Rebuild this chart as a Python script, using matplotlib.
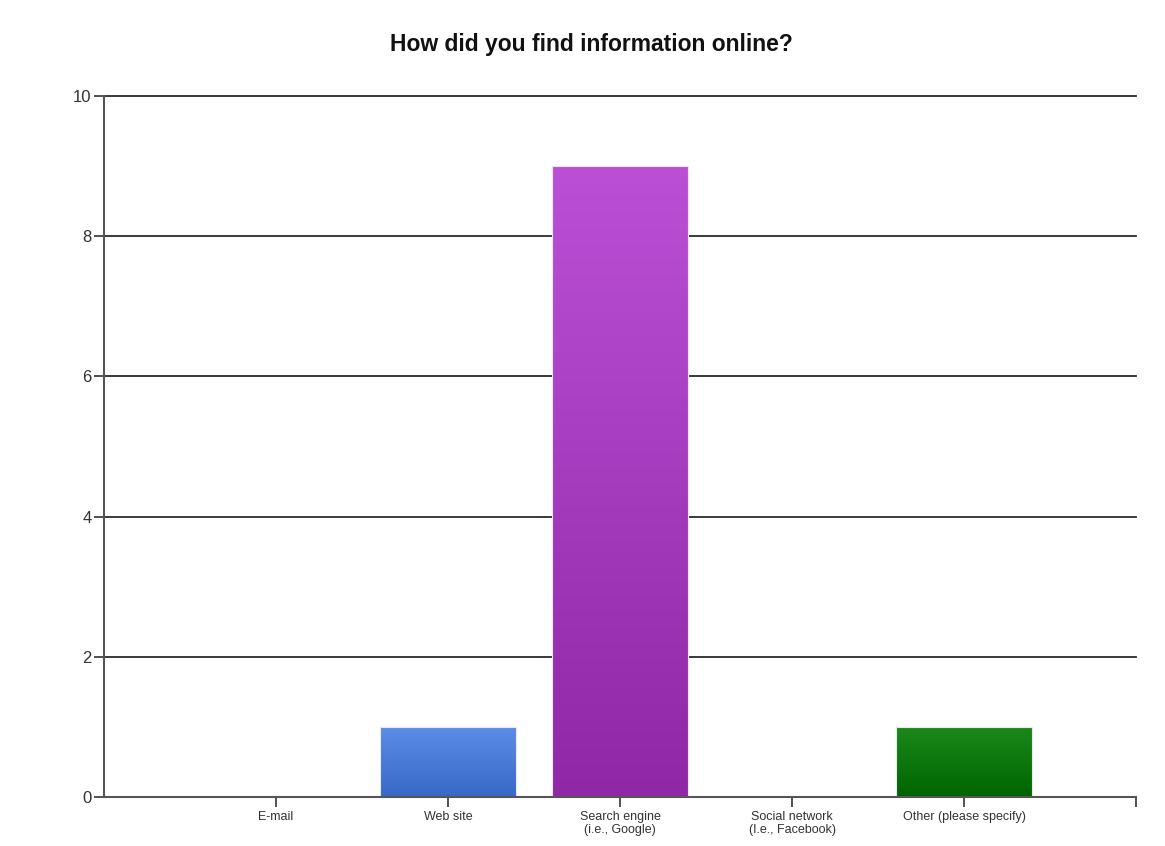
import matplotlib
matplotlib.use("Agg")
import matplotlib.pyplot as plt
import numpy as np
from matplotlib.colors import LinearSegmentedColormap

categories = ["E-mail", "Web site", "Search engine\n(i.e., Google)",
              "Social network\n(I.e., Facebook)", "Other (please specify)"]
counts = [0, 1, 9, 0, 1]
# top / bottom colour of each bar's gradient
top_colors = ["#5b8ee8", "#5b8ee8", "#bb50d6", "#bb50d6", "#1a8a1a"]
bottom_colors = ["#3868c6", "#3868c6", "#8f27a6", "#8f27a6", "#006400"]

plt.rcParams['font.family'] = ['Liberation Sans', 'DejaVu Sans']

fig = plt.figure(figsize=(11.65, 8.46), dpi=100)
ax = fig.add_axes([0.0893, 0.0579, 0.8858, 0.8286])

x = np.arange(1, len(categories) + 1)
width = 0.79
bars = ax.bar(x, counts, width=width, color="none", edgecolor="none", zorder=3)

# fill each bar with a vertical gradient clipped to the bar rectangle
grad = np.linspace(0, 1, 256).reshape(-1, 1)
for b, top, bot, v in zip(bars, top_colors, bottom_colors, counts):
    if v == 0:
        continue
    cmap = LinearSegmentedColormap.from_list("g", [bot, top])
    x0 = b.get_x()
    im = ax.imshow(grad, cmap=cmap, aspect="auto", origin="lower",
                   extent=[x0, x0 + width, 0, v], zorder=3, interpolation="bilinear")
    im.set_clip_path(b)
    ax.add_patch(plt.Rectangle((x0, 0), width, v, fill=False,
                               edgecolor="#ece6f0", lw=0.8, zorder=4))

ax.set_xlim(0, 6)
ax.set_ylim(0, 10)
ax.set_yticks([0, 2, 4, 6, 8, 10])
ax.set_xticks(list(x) + [6])
ax.set_xticklabels(categories + [""], fontsize=9, color="#333333", linespacing=1.15)
ax.tick_params(axis="y", labelsize=12, colors="#333333", length=7, width=1.2, pad=2)
ax.tick_params(axis="x", length=7, width=1.2, colors="#333333", pad=3)
for lab in ax.get_xticklabels():
    lab.set_color("#333333")

ax.grid(axis="y", color="#2a2a2a", lw=1.3, zorder=1)
for gl in ax.get_ygridlines():
    gl.set_clip_on(False)
ax.set_axisbelow(True)
for s in ["top", "right"]:
    ax.spines[s].set_visible(False)
for s in ["left", "bottom"]:
    ax.spines[s].set_color("#555555")
    ax.spines[s].set_linewidth(1.5)
    ax.spines[s].set_zorder(5)

fig.text(0.508, 0.947, "How did you find information online?", ha="center",
         va="center", fontsize=16.5, fontweight="bold", color="#111111")

fig.savefig("out.png", dpi=100)
